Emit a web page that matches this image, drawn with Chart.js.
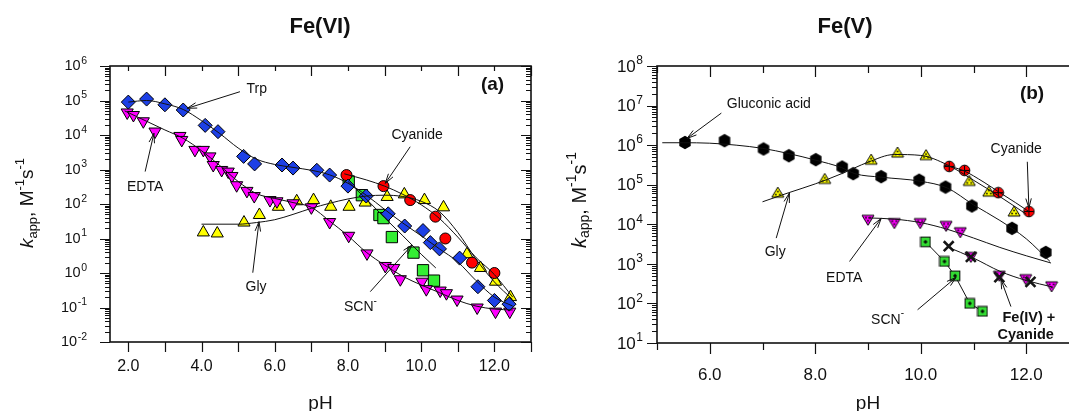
<!DOCTYPE html>
<html>
<head>
<meta charset="utf-8">
<title>Fe(VI) / Fe(V) rate constants vs pH</title>
<script src="https://cdn.jsdelivr.net/npm/chart.js@4.4.1/dist/chart.umd.min.js"></script>
<style>
  html, body { margin: 0; padding: 0; background: #fff; width: 1069px; height: 411px; overflow: hidden; position: relative; }
  canvas { position: absolute; top: 0; }
  #panel-a { left: 0; }
  #panel-b { left: 545px; }
</style>
</head>
<body>
<canvas id="panel-a" width="545" height="411"></canvas>
<canvas id="panel-b" width="545" height="411"></canvas>
<script>
const FONT = '"Liberation Sans", Arial, Helvetica, sans-serif';

// ---------- (a) Fe(VI): measured k_app (M^-1 s^-1) ----------
const trpPH = [2.0, 2.5, 3.0, 3.5, 4.1, 4.45, 5.15, 5.45, 6.2, 6.5, 7.15, 7.5, 8.0, 8.5, 9.1, 9.55, 10.05, 10.25, 10.5, 11.05, 11.55, 12.0, 12.4];
const trpK = [9e4, 1.1e5, 7.5e4, 5.3e4, 1.9e4, 1.25e4, 2.4e3, 1.45e3, 1.35e3, 1.1e3, 9.5e2, 6.9e2, 3.3e2, 1.7e2, 52, 23, 17, 7.6, 5.0, 2.7, 0.4, 0.16, 0.125];

const edtaPH = [1.97, 2.14, 2.41, 2.73, 3.41, 3.46, 3.82, 4.05, 4.23, 4.32, 4.55, 4.73, 4.83, 4.96, 5.24, 5.44, 5.87, 6.06, 6.5, 7.0, 7.5, 8.02, 8.52, 9.02, 9.25, 9.43, 10.02, 10.14, 10.52, 10.69, 10.98, 11.53, 12.03, 12.42];
const edtaK = [4.5e4, 3.8e4, 2.5e4, 1.26e4, 9.4e3, 7.2e3, 3.7e3, 3.7e3, 2.4e3, 1.35e3, 9.7e2, 8.7e2, 6.5e2, 3.5e2, 2.4e2, 1.7e2, 1.3e2, 1.2e2, 1.05e2, 80, 30, 12, 3.7, 1.6, 1.4, 0.66, 0.56, 0.34, 0.31, 0.26, 0.17, 0.10, 0.076, 0.076];

const glyPH = [4.05, 4.43, 5.16, 5.58, 6.1, 6.6, 7.06, 7.53, 8.03, 8.47, 9.07, 9.54, 10.09, 10.61, 11.25, 11.62, 12.03, 12.44];
const glyK = [15, 14, 29, 48, 83, 120, 130, 83, 83, 110, 160, 190, 130, 80, 3.5, 1.4, 0.56, 0.2];

const cyanPH = [7.96, 8.97, 9.7, 10.39, 10.66, 11.39, 12.0];
const cyanK = [690, 330, 130, 43, 10, 2.0, 1.0];

const scnPH = [8.02, 8.38, 8.86, 8.97, 9.2, 9.79, 10.05, 10.35];
const scnK = [450, 180, 48, 39, 11, 3.9, 1.2, 0.6];

// fitted curves, (a)
const trpFitPH = [2.0, 2.5, 3.0, 3.5, 4.0, 4.5, 5.0, 5.5, 6.0, 6.5, 7.0, 7.5, 8.0, 8.5, 9.0, 9.5, 10.0, 10.5, 11.0, 11.5, 12.0, 12.5];
const trpFitK = [9e4, 1.0e5, 8e4, 5.5e4, 2.6e4, 1.1e4, 4.2e3, 2.0e3, 1.4e3, 1.15e3, 9.5e2, 7e2, 4e2, 1.8e2, 70, 28, 12, 5, 2.1, 0.6, 0.2, 0.11];
const edtaFitPH = [1.9, 2.5, 3.0, 3.5, 4.0, 4.5, 5.0, 5.5, 6.0, 6.5, 7.0, 7.5, 8.0, 8.5, 9.0, 9.5, 10.0, 10.5, 11.0, 11.5, 12.0, 12.5];
const edtaFitK = [5e4, 2.5e4, 1.4e4, 8e3, 3.5e3, 1.3e3, 4.5e2, 2e2, 1.45e2, 1.1e2, 80, 32, 12, 4, 1.7, 0.8, 0.45, 0.27, 0.16, 0.11, 0.09, 0.085];
const glyFitPH = [4.0, 5.0, 5.5, 6.0, 6.5, 7.0, 7.5, 8.0, 8.5, 9.0, 9.5, 10.0, 10.5, 11.0, 11.5, 12.0, 12.5];
const glyFitK = [26, 26, 29, 35, 50, 75, 105, 140, 170, 180, 165, 120, 60, 15, 2.5, 0.55, 0.17];
const cyanFitPH = [7.9, 8.5, 9.0, 9.5, 10.0, 10.5, 11.0, 11.5, 12.0, 12.5];
const cyanFitK = [7.5e2, 5e2, 3.3e2, 1.9e2, 95, 38, 11, 2.8, 0.9, 0.2];
const scnFitPH = [8.0, 8.5, 9.0, 9.5, 10.0, 10.4];
const scnFitK = [450, 140, 40, 12, 3.5, 1.4];

// ---------- (b) Fe(V): measured k_app ----------
const gluPH = [5.53, 6.28, 7.02, 7.5, 8.01, 8.51, 8.72, 9.25, 9.97, 10.47, 10.97, 11.73, 12.37];
const gluK = [1.17e6, 1.3e6, 8e5, 5.4e5, 4.3e5, 2.8e5, 1.9e5, 1.6e5, 1.3e5, 8.7e4, 2.9e4, 7.9e3, 1.95e3];
const glyBPH = [7.29, 8.18, 9.06, 9.56, 10.1, 10.92, 11.29, 11.77];
const glyBK = [6.3e4, 1.4e5, 4.3e5, 6.5e5, 5.6e5, 1.25e5, 6.7e4, 2.1e4];
const cyanBPH = [10.54, 10.83, 11.47, 12.05];
const cyanBK = [2.9e5, 2.3e5, 6.3e4, 2.1e4];
const edtaBPH = [9.0, 9.5, 9.99, 10.48, 10.75, 10.95, 11.49, 11.99, 12.48];
const edtaBK = [1.3e4, 1.07e4, 1.07e4, 9.1e3, 6.3e3, 1.5e3, 5e2, 4.1e2, 2.7e2];
const scnBPH = [10.09, 10.45, 10.65, 10.93, 11.17];
const scnBK = [3.6e3, 1.15e3, 5e2, 1.0e2, 63];
const fe4PH = [10.53, 10.95, 11.49, 12.08];
const fe4K = [2.8e3, 1.5e3, 4.6e2, 3.5e2];

// fitted curves, (b)
const gluFitPH = [5.1, 5.5, 6.0, 6.5, 7.0, 7.5, 8.0, 8.5, 8.75, 9.25, 10.0, 10.5, 11.0, 11.5, 12.0, 12.45];
const gluFitK = [1.15e6, 1.15e6, 1.12e6, 1.0e6, 8.3e5, 6.1e5, 4.2e5, 2.7e5, 1.9e5, 1.55e5, 1.22e5, 8.3e4, 3.1e4, 1.25e4, 4.3e3, 1.15e3];
const glyBFitPH = [7.0, 7.5, 8.0, 8.5, 9.0, 9.5, 10.0, 10.5, 11.0, 11.5, 12.0];
const glyBFitK = [3.7e4, 6.3e4, 1.05e5, 1.9e5, 3.7e5, 5.8e5, 5.5e5, 3.2e5, 1.3e5, 5.0e4, 1.8e4];
const cyanBFitPH = [10.45, 10.8, 11.2, 11.5, 11.8, 12.05];
const cyanBFitK = [3.1e5, 2.3e5, 1.15e5, 6.3e4, 3.5e4, 2.1e4];
const edtaBFitPH = [9.0, 9.5, 10.0, 10.5, 11.0, 11.5, 12.0, 12.47];
const edtaBFitK = [1.45e4, 1.35e4, 1.1e4, 7.5e3, 4.5e3, 2.6e3, 1.6e3, 1.05e3];
const fe4FitPH = [10.5, 11.0, 11.5, 12.0, 12.5];
const fe4FitK = [2.7e3, 1.4e3, 6.5e2, 3.8e2, 2.6e2];

// axis ticks
const yExpA = [-2, -1, 0, 1, 2, 3, 4, 5, 6];
const yExpB = [1, 2, 3, 4, 5, 6, 7, 8];
const xLabelsA = [2, 4, 6, 8, 10, 12];
const xLabelsB = [6, 8, 10, 12];

const pts = (xs, ys) => xs.map((x, i) => ({ x, y: ys[i] }));

function scatterSet(xs, ys, style) {
  return Object.assign({
    data: pts(xs, ys),
    showLine: false,
    borderColor: '#000',
    borderWidth: 1,
    pointBorderWidth: 1,
    pointBorderColor: '#000',
    order: 1
  }, style);
}

function curveSet(xs, ys, extra) {
  return Object.assign({
    data: pts(xs, ys),
    showLine: true,
    borderColor: '#111',
    borderWidth: 1,
    pointRadius: 0,
    cubicInterpolationMode: 'monotone',
    order: 0
  }, extra);
}

// small bitmap markers for the Fe(V) panel
function marker(w, h, paint) {
  const c = document.createElement('canvas');
  c.width = w;
  c.height = h;
  const g = c.getContext('2d');
  g.lineWidth = 1;
  g.strokeStyle = '#000';
  paint(g, w / 2, h / 2);
  return c;
}

const hexMark = marker(14, 15, (g, cx, cy) => {
  g.beginPath();
  for (let i = 0; i < 6; i++) {
    const a = -Math.PI / 2 + i * Math.PI / 3;
    g.lineTo(cx + 6.6 * Math.cos(a), cy + 6.8 * Math.sin(a));
  }
  g.closePath();
  g.fillStyle = '#000';
  g.fill();
});

function dottedTriangle(fill, down) {
  return marker(14, 13, (g, cx, cy) => {
    const s = down ? -1 : 1;
    g.beginPath();
    g.moveTo(cx, cy - s * 5.5);
    g.lineTo(cx + 6, cy + s * 4.5);
    g.lineTo(cx - 6, cy + s * 4.5);
    g.closePath();
    g.fillStyle = fill;
    g.fill();
    g.stroke();
    g.fillStyle = '#000';
    [[0, -1], [-2, 2], [2, 2]].forEach(([dx, dy]) => g.fillRect(cx + dx - 0.8, cy + s * dy - 0.8, 1.6, 1.6));
  });
}
const glyMark = dottedTriangle('#ffff00', false);
const edtaMark = dottedTriangle('#ff00ff', true);

const cyanMark = marker(13, 13, (g, cx, cy) => {
  g.beginPath();
  g.arc(cx, cy, 5.3, 0, Math.PI * 2);
  g.fillStyle = '#ff0000';
  g.fill();
  g.stroke();
  g.beginPath();
  g.moveTo(cx - 5, cy); g.lineTo(cx + 5, cy);
  g.moveTo(cx, cy - 5); g.lineTo(cx, cy + 5);
  g.stroke();
});

const scnMark = marker(12, 12, (g, cx, cy) => {
  g.fillStyle = '#33dd33';
  g.fillRect(cx - 4.8, cy - 4.8, 9.6, 9.6);
  g.strokeRect(cx - 4.8, cy - 4.8, 9.6, 9.6);
  g.fillStyle = '#000';
  g.fillRect(cx - 1.8, cy - 0.7, 3.6, 1.4);
  g.fillRect(cx - 0.7, cy - 1.8, 1.4, 3.6);
});

// rich text: parts = [{t, size, bold, italic, dy}]
function partFont(p) {
  return `${p.italic ? 'italic ' : ''}${p.bold ? 'bold ' : ''}${p.size}px ${FONT}`;
}
function drawRich(ctx, parts, cx, cy) {
  let total = 0;
  parts.forEach(p => { ctx.font = partFont(p); p.w = ctx.measureText(p.t).width; total += p.w; });
  let x = cx - total / 2;
  ctx.textAlign = 'left';
  ctx.textBaseline = 'middle';
  parts.forEach(p => {
    ctx.font = partFont(p);
    ctx.fillText(p.t, x, cy + (p.dy || 0));
    x += p.w;
  });
}

function drawArrow(ctx, x1, y1, x2, y2) {
  ctx.beginPath();
  ctx.moveTo(x1, y1);
  ctx.lineTo(x2, y2);
  const a = Math.atan2(y2 - y1, x2 - x1);
  const len = 10, spread = 0.28;
  ctx.moveTo(x2 - len * Math.cos(a - spread), y2 - len * Math.sin(a - spread));
  ctx.lineTo(x2, y2);
  ctx.lineTo(x2 - len * Math.cos(a + spread), y2 - len * Math.sin(a + spread));
  ctx.stroke();
}

// axes, tick marks, labels and arrows drawn on top of the plot
function framePlugin(cfg) {
  return {
    id: 'frame',
    afterDatasetsDraw(chart) {
      const { ctx, chartArea, scales } = chart;
      const { left: L, right: R, top: T, bottom: B } = chartArea;
      const x = scales.x, y = scales.y;
      const seg = (x1, y1, x2, y2) => { ctx.moveTo(x1, y1); ctx.lineTo(x2, y2); };

      ctx.save();
      ctx.strokeStyle = '#111';
      ctx.fillStyle = '#111';

      // y ticks (log decades + minors)
      ctx.lineWidth = 1.2;
      ctx.beginPath();
      cfg.yExp.forEach(e => {
        for (let m = 1; m <= 9; m++) {
          const v = m * Math.pow(10, e);
          if (v < y.min * 0.999 || v > y.max * 1.001) continue;
          const py = Math.round(y.getPixelForValue(v)) + 0.5;
          const len = m === 1 ? 10 : 5;
          seg(L - len, py, L, py);
          if (cfg.rightTicks) seg(R, py, R - len, py);
        }
      });
      // x ticks on bottom (outward) and top (inward)
      for (let v = Math.ceil(x.min); v <= x.max; v++) {
        const px = Math.round(x.getPixelForValue(v)) + 0.5;
        seg(px, B, px, B + cfg.bottomLen(v));
        seg(px, T, px, T + cfg.topLen(v));
      }
      ctx.stroke();

      // frame
      ctx.lineWidth = 1.6;
      ctx.strokeRect(L, T, R - L, B - T);

      // y tick labels: 10^n
      ctx.textBaseline = 'middle';
      ctx.textAlign = 'left';
      cfg.yExp.forEach(e => {
        const py = y.getPixelForValue(Math.pow(10, e)) + cfg.yLabelDy;
        const sup = String(e);
        ctx.font = `${cfg.supSize}px ${FONT}`;
        const wSup = ctx.measureText(sup).width;
        ctx.font = `${cfg.tickSize}px ${FONT}`;
        const wBase = ctx.measureText('10').width;
        const xr = L - cfg.yLabelGap;
        ctx.fillText('10', xr - wSup - wBase - 0.5, py);
        ctx.font = `${cfg.supSize}px ${FONT}`;
        ctx.fillText(sup, xr - wSup, py - cfg.supRise);
      });

      // x tick labels
      ctx.textAlign = 'center';
      ctx.font = `${cfg.xTickSize}px ${FONT}`;
      cfg.xLabels.forEach(v => ctx.fillText(v.toFixed(1), x.getPixelForValue(v), B + cfg.xLabelDy));

      // axis titles
      ctx.font = `19px ${FONT}`;
      ctx.textBaseline = 'alphabetic';
      ctx.fillText('pH', (L + R) / 2, 409);
      ctx.font = `bold 22px ${FONT}`;
      ctx.textBaseline = 'middle';
      ctx.fillText(cfg.title, cfg.titleX, 27);

      ctx.save();
      ctx.translate(cfg.yTitleX, cfg.yTitleY);
      ctx.rotate(-Math.PI / 2);
      const s = cfg.yTitleSize, ss = Math.round(s * 0.68);
      drawRich(ctx, [
        { t: 'k', size: s, italic: true },
        { t: 'app', size: ss, dy: s * 0.28 },
        { t: ', M', size: s },
        { t: '-1', size: ss, dy: -s * 0.4 },
        { t: 's', size: s },
        { t: '-1', size: ss, dy: -s * 0.4 }
      ], 0, 0);
      ctx.restore();

      // series labels and arrows
      ctx.lineWidth = 1;
      cfg.notes.forEach(n => {
        if (n.from) {
          drawArrow(ctx, x.getPixelForValue(n.from[0]), y.getPixelForValue(n.from[1]),
            x.getPixelForValue(n.to[0]), y.getPixelForValue(n.to[1]));
        }
        const parts = n.parts || [{ t: n.text, size: n.size || 14, bold: n.bold }];
        drawRich(ctx, parts, x.getPixelForValue(n.at[0]), y.getPixelForValue(n.at[1]));
      });
      ctx.restore();
    }
  };
}

function makePanel(id, datasets, xr, yr, pad, cfg) {
  return new Chart(document.getElementById(id), {
    type: 'scatter',
    data: { datasets },
    options: {
      responsive: false,
      animation: false,
      devicePixelRatio: 1,
      layout: { padding: pad },
      scales: {
        x: { type: 'linear', min: xr[0], max: xr[1], display: false },
        y: { type: 'logarithmic', min: yr[0], max: yr[1], display: false }
      },
      plugins: { legend: { display: false }, tooltip: { enabled: false } }
    },
    plugins: [framePlugin(cfg)]
  });
}

// ---------- panel (a) ----------
makePanel('panel-a', [
  curveSet(trpFitPH, trpFitK),
  curveSet(edtaFitPH, edtaFitK),
  curveSet(glyFitPH, glyFitK),
  curveSet(cyanFitPH, cyanFitK),
  curveSet(scnFitPH, scnFitK, { cubicInterpolationMode: 'default', tension: 0 }),
  scatterSet(trpPH, trpK, { pointStyle: 'rectRot', pointRadius: 7, backgroundColor: '#1d40e6', pointBackgroundColor: '#1d40e6', order: 1 }),
  scatterSet(edtaPH, edtaK, { pointStyle: 'triangle', pointRotation: 180, pointRadius: 7, pointBackgroundColor: '#ff00ff', order: 2 }),
  scatterSet(cyanPH, cyanK, { pointStyle: 'circle', pointRadius: 5.5, pointBackgroundColor: '#ff0000', order: 3 }),
  scatterSet(glyPH, glyK, { pointStyle: 'triangle', pointRadius: 7, pointBackgroundColor: '#ffff00', order: 4 }),
  scatterSet(scnPH, scnK, { pointStyle: 'rect', pointRadius: 8, pointBackgroundColor: '#33ee33', order: 5 })
], [1.5, 13], [0.01, 1e6], { left: 110, right: 14, top: 66, bottom: 69 }, {
  yExp: yExpA,
  xLabels: xLabelsA,
  rightTicks: true,
  bottomLen: () => 10,
  topLen: v => (v % 2 ? 10 : 5),
  tickSize: 14.5, supSize: 10.5, supRise: 5, yLabelGap: 23, yLabelDy: 0,
  xTickSize: 16, xLabelDy: 25,
  title: 'Fe(VI)', titleX: 320,
  yTitleX: 28, yTitleY: 203, yTitleSize: 19,
  notes: [
    { text: 'Trp', at: [5.51, 2.11e5], from: [5.05, 1.8e5], to: [3.61, 5.94e4] },
    { text: 'EDTA', at: [2.46, 316], from: [2.46, 871], to: [2.70, 1.12e4] },
    { text: 'Gly', at: [5.49, 0.385], from: [5.40, 1.02], to: [5.57, 30.7] },
    { text: 'Cyanide', at: [9.89, 1e4], from: [9.70, 4.57e3], to: [9.02, 398] },
    { parts: [{ t: 'SCN', size: 14 }, { t: '-', size: 10, dy: -6 }], at: [8.34, 0.105], from: [8.61, 0.288], to: [9.75, 6.49] },
    { text: '(a)', size: 19, bold: true, at: [11.95, 2.8e5] }
  ]
});

// ---------- panel (b) ----------
makePanel('panel-b', [
  curveSet(gluFitPH, gluFitK),
  curveSet(glyBFitPH, glyBFitK),
  curveSet(cyanBFitPH, cyanBFitK),
  curveSet(edtaBFitPH, edtaBFitK),
  curveSet(fe4FitPH, fe4FitK),
  scatterSet(gluPH, gluK, { pointStyle: hexMark, pointRadius: 7, order: 1 }),
  scatterSet(cyanBPH, cyanBK, { pointStyle: cyanMark, pointRadius: 6, order: 2 }),
  scatterSet(glyBPH, glyBK, { pointStyle: glyMark, pointRadius: 6, order: 3 }),
  scatterSet(fe4PH, fe4K, { pointStyle: 'crossRot', pointRadius: 7, pointBorderWidth: 2.6, pointBorderColor: '#151515', order: 1 }),
  scatterSet(edtaBPH, edtaBK, { pointStyle: edtaMark, pointRadius: 6, order: 4 }),
  scatterSet(scnBPH, scnBK, { pointStyle: scnMark, pointRadius: 6, showLine: true, borderColor: '#111', borderWidth: 1, order: 5 })
], [5, 13], [10, 1e8], { left: 112, right: 11, top: 66, bottom: 68 }, {
  yExp: yExpB,
  xLabels: xLabelsB,
  rightTicks: true,
  bottomLen: v => (v % 2 ? 7 : 11),
  topLen: v => (v % 2 ? 7 : 11),
  tickSize: 17, supSize: 12, supRise: 6, yLabelGap: 14, yLabelDy: 1,
  xTickSize: 17, xLabelDy: 32,
  title: 'Fe(V)', titleX: 300,
  yTitleX: 35, yTitleY: 200, yTitleSize: 20,
  notes: [
    { text: 'Gluconic acid', at: [7.12, 1.07e7], from: [6.22, 6.46e6], to: [5.57, 1.48e6] },
    { text: 'Gly', at: [7.24, 2.0e3], from: [7.26, 4.47e3], to: [7.51, 6.17e4] },
    { text: 'EDTA', at: [8.55, 437], from: [8.65, 1.15e3], to: [9.25, 1.41e4] },
    { parts: [{ t: 'SCN', size: 14 }, { t: '-', size: 10, dy: -6 }], at: [9.37, 38.9], from: [9.94, 69.2], to: [10.67, 457] },
    { text: 'Fe(IV) +', size: 14.5, bold: true, at: [12.05, 42.7], from: [11.71, 83.2], to: [11.52, 407] },
    { text: 'Cyanide', size: 14.5, bold: true, at: [11.99, 16.2] },
    { text: 'Cyanide', at: [11.81, 7.94e5], from: [12.02, 3.8e5], to: [12.05, 2.57e4] },
    { text: '(b)', size: 19, bold: true, at: [12.11, 2.04e7] }
  ]
});
</script>
</body>
</html>
